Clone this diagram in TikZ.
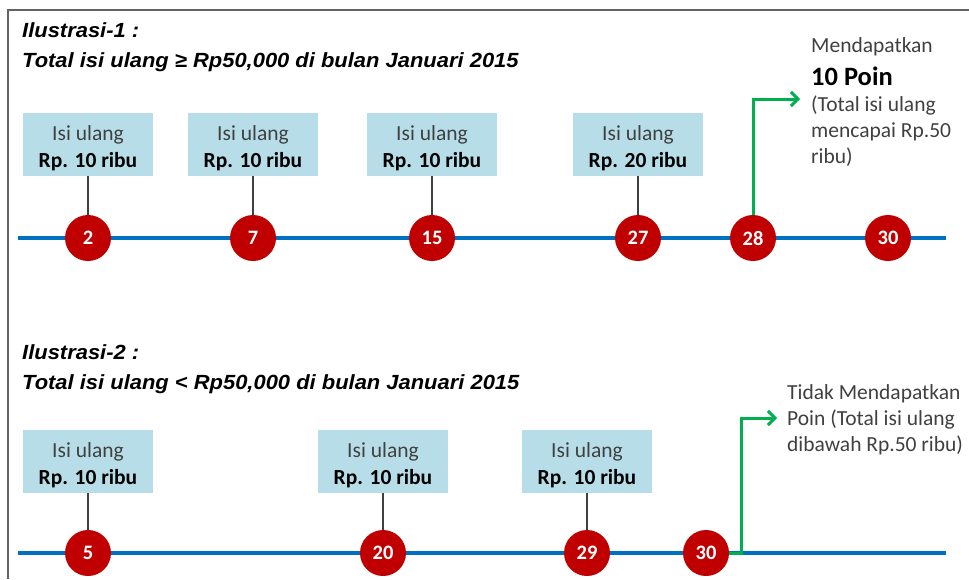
\documentclass[tikz,border=0pt]{standalone}
\usepackage{fontspec}
\setmainfont{Carlito}
\newfontfamily\headfont[FakeStretch=1.07]{Liberation Sans}
\usetikzlibrary{positioning}
\usetikzlibrary{arrows.meta}

\definecolor{lineblue}{RGB}{0,112,192}
\definecolor{dayred}{RGB}{192,0,0}
\definecolor{boxblue}{RGB}{183,222,232}
\definecolor{gaingreen}{RGB}{0,176,80}
\definecolor{textgrey}{RGB}{64,64,64}
\definecolor{framegrey}{RGB}{100,100,100}

\tikzset{
    day/.style={circle, fill=dayred, text=white, inner sep=0pt, minimum size=46pt,
        font=\fontsize{20.5}{20.5}\selectfont\bfseries},
    topup/.style={fill=boxblue, inner sep=0pt, minimum width=130pt, minimum height=63pt,
        align=center, text height=46pt, text depth=0pt, font=\fontsize{21.5}{27}\selectfont},
    stem/.style={draw=textgrey, line width=1.3pt},
    timeline/.style={draw=lineblue, line width=3.5pt},
    gain/.style={draw=gaingreen, line width=3pt, -{Straight Barb[length=7pt,width=14pt]}},
    heading/.style={inner sep=0pt, anchor=north west, align=left,
        font=\headfont\fontsize{20.5}{30}\selectfont\bfseries\itshape},
    outcome/.style={inner sep=0pt, anchor=north west, align=left, text=textgrey,
        font=\fontsize{21.5}{26}\selectfont}
}

\begin{document}
\begin{tikzpicture}[x=1pt, y=-1pt]
    \useasboundingbox (0,0) rectangle (969,579);
    \draw[framegrey, line width=2pt] (8,579) -- (8,10) -- (969,10);

    % Ilustrasi 1
    \node[heading] (head1) at (22,22) {Ilustrasi-1 :\\Total isi ulang ≥ Rp50,000 di bulan Januari 2015};
    \coordinate (start1) at (18,238);
    \coordinate (end1) at (946,238);
    \draw[timeline] (start1) -- (end1);
    \foreach \d/\x/\amt in {2/88/10,7/253/10,15/432/10,27/638/20} {
        \node[day] (a\d) at (\x,238) {\d};
        \node[topup] (ta\d) at (\x,144.5) {{\color{textgrey}Isi ulang}\\\textbf{Rp. \amt\ ribu}};
        \draw[stem] (ta\d.south) -- (a\d.north);
    }
    \node[day] (a28) at (753,238) {28};
    \node[day] (a30) at (888,238) {30};
    \node[outcome] (res1) at (811,37) {Mendapatkan\\[7pt]{\color{black}\fontsize{26.5}{26.5}\selectfont\bfseries 10 Poin}\\[0pt](Total isi ulang\\mencapai Rp.50\\ribu)};
    \coordinate (tip1) at (800,99);
    \draw[gain] (a28.north) |- (tip1);

    % Ilustrasi 2
    \node[heading] (head2) at (22,344) {Ilustrasi-2 :\\Total isi ulang < Rp50,000 di bulan Januari 2015};
    \coordinate (start2) at (18,553);
    \coordinate (end2) at (946,553);
    \draw[timeline] (start2) -- (end2);
    \foreach \d/\x in {5/88,20/383,29/587} {
        \node[day] (b\d) at (\x,553) {\d};
        \node[topup] (tb\d) at (\x,461.5) {{\color{textgrey}Isi ulang}\\\textbf{Rp. 10 ribu}};
        \draw[stem] (tb\d.south) -- (b\d.north);
    }
    \node[day] (b30) at (706,553) {30};
    \node[outcome] (res2) at (787,384) {Tidak Mendapatkan\\Poin (Total isi ulang\\dibawah Rp.50 ribu)};
    \coordinate (tip2) at (777,418);
    \draw[gain] (b30.east) -- ++(12,0) |- (tip2);
\end{tikzpicture}
\end{document}
